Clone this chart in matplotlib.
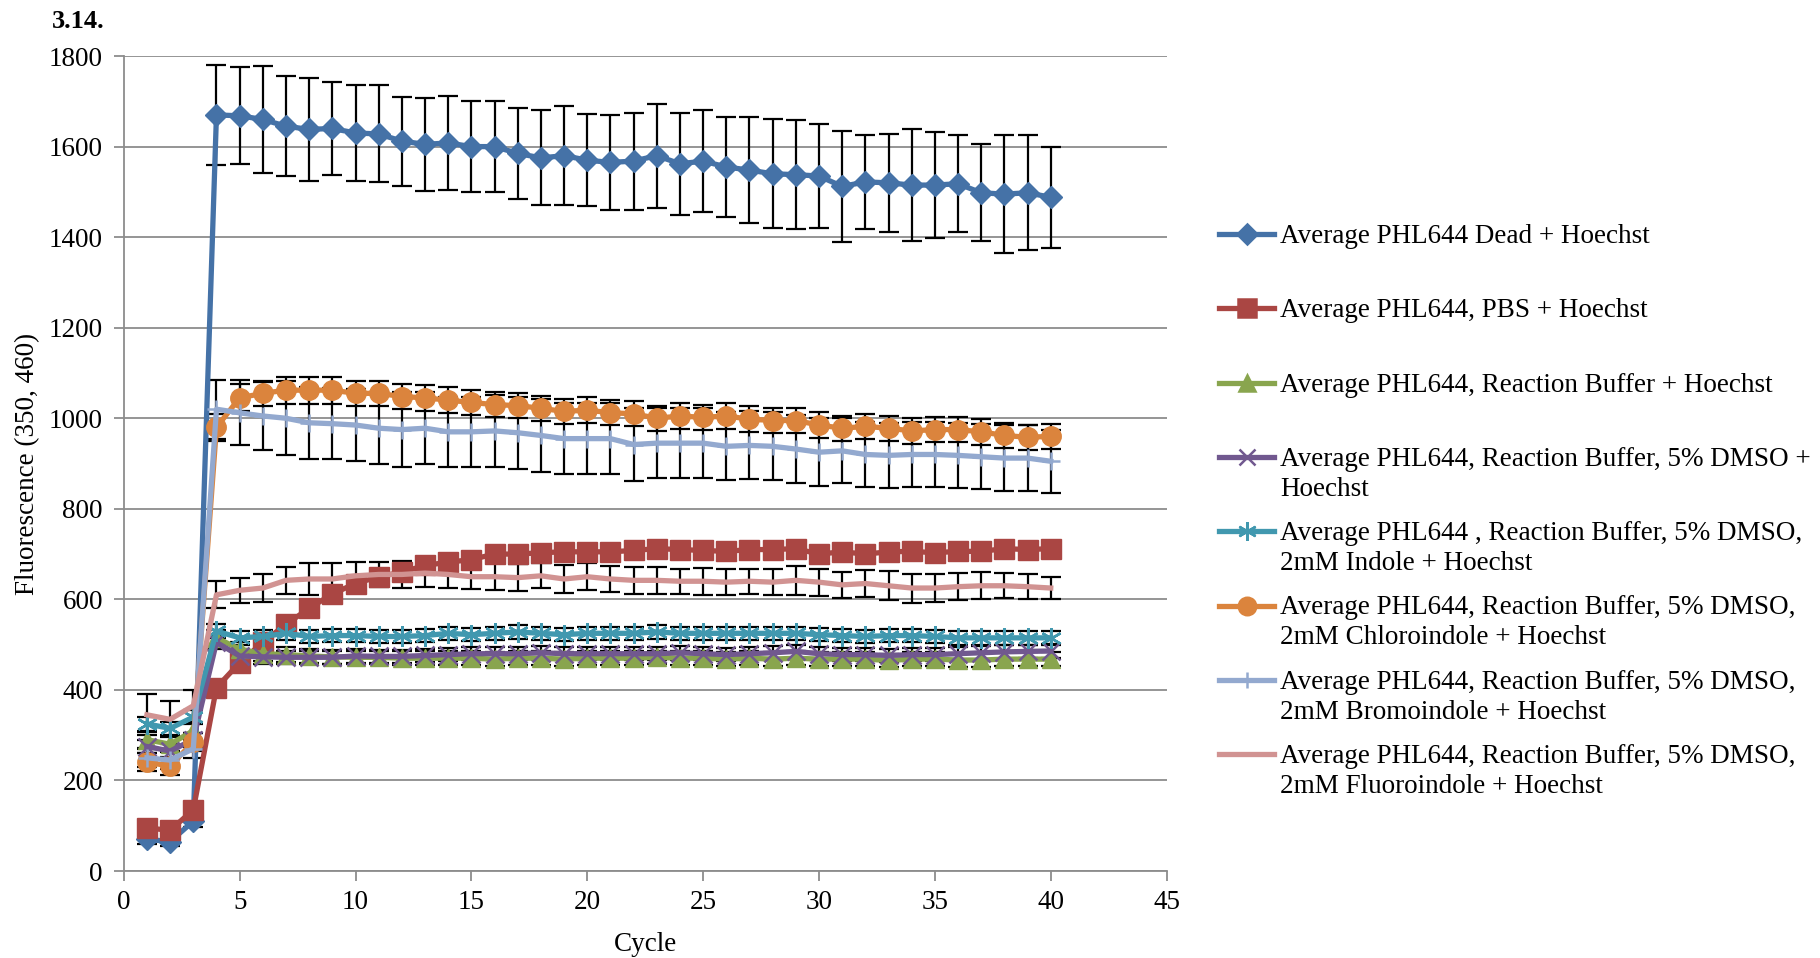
import matplotlib
matplotlib.use("Agg")
import matplotlib.pyplot as plt
from matplotlib.lines import Line2D

plt.rcParams["font.family"] = ["Liberation Serif", "DejaVu Serif"]

cycles = list(range(1, 41))

dead = [70, 65, 110, 1670, 1668, 1660, 1645, 1638, 1640, 1630, 1628, 1612, 1605, 1608, 1600, 1600, 1585, 1575, 1580, 1570,
        1565, 1568, 1580, 1562, 1568, 1555, 1548, 1540, 1538, 1535, 1512, 1522, 1520, 1515, 1515, 1518, 1498, 1495, 1498, 1488]
dead_err = [10, 10, 12, 110, 107, 118, 110, 114, 102, 105, 107, 98, 103, 104, 100, 100, 100, 105, 110, 102,
            105, 107, 115, 113, 112, 110, 117, 120, 120, 115, 123, 103, 108, 123, 117, 107, 107, 130, 127, 112]

pbs = [95, 90, 135, 405, 460, 505, 545, 580, 612, 635, 650, 660, 675, 682, 688, 700, 700, 703, 705, 705,
       705, 708, 712, 710, 708, 706, 710, 710, 712, 700, 705, 700, 705, 706, 703, 706, 706, 712, 710, 712]
pbs_err = [12] * 40

rb = [290, 280, 310, 515, 490, 480, 478, 475, 473, 472, 472, 470, 470, 470, 470, 468, 470, 470, 468, 470,
      470, 470, 472, 470, 470, 468, 470, 468, 470, 468, 468, 468, 465, 468, 468, 466, 466, 468, 468, 468]
rb_err = [18, 18, 18, 18, 16, 16, 16, 15, 15, 15, 15, 15, 15, 15, 15, 15, 15, 15, 15, 15,
          15, 15, 15, 15, 15, 15, 15, 15, 15, 15, 15, 15, 15, 15, 15, 15, 15, 15, 15, 15]

dmso = [275, 265, 290, 505, 475, 473, 472, 472, 472, 475, 474, 474, 476, 478, 480, 480, 480, 482, 480, 480,
        480, 480, 480, 482, 480, 478, 480, 482, 485, 480, 478, 478, 476, 478, 478, 480, 482, 484, 485, 486]
dmso_err = [15] * 40

indole = [325, 315, 340, 530, 515, 518, 525, 518, 520, 520, 518, 518, 520, 525, 522, 525, 528, 525, 522, 525,
          525, 525, 528, 525, 525, 525, 525, 525, 525, 522, 520, 518, 520, 520, 518, 515, 515, 515, 515, 515]
indole_err = [15] * 40

chloro = [240, 232, 285, 980, 1045, 1055, 1062, 1062, 1062, 1055, 1055, 1048, 1045, 1040, 1035, 1030, 1028, 1022, 1015, 1018,
          1012, 1010, 1000, 1005, 1002, 1005, 998, 995, 995, 985, 978, 982, 978, 972, 975, 975, 970, 962, 958, 960]
chloro_err = [20, 20, 20, 30, 30, 28, 30, 30, 30, 28, 28, 28, 28, 28, 28, 28, 28, 28, 28, 28,
              28, 28, 28, 28, 28, 28, 28, 28, 28, 28, 28, 28, 28, 28, 28, 28, 28, 28, 28, 28]

bromo = [250, 245, 270, 1020, 1012, 1005, 1000, 990, 988, 985, 978, 975, 978, 970, 970, 972, 968, 962, 955, 955,
         955, 942, 945, 945, 945, 938, 940, 938, 932, 925, 928, 920, 918, 920, 920, 918, 915, 912, 912, 905]
bromo_err = [20, 20, 20, 65, 72, 75, 82, 80, 78, 80, 80, 82, 80, 78, 78, 80, 80, 80, 78, 78,
             78, 80, 78, 78, 78, 75, 75, 75, 75, 75, 72, 72, 72, 72, 72, 72, 72, 72, 72, 70]

fluoro = [345, 335, 365, 610, 620, 625, 642, 645, 645, 652, 655, 655, 658, 655, 650, 650, 648, 652, 645, 650,
          645, 642, 642, 640, 640, 638, 640, 638, 642, 638, 632, 635, 630, 625, 625, 628, 630, 630, 628, 625]
fluoro_err = [45, 40, 35, 30, 28, 30, 30, 35, 35, 30, 28, 30, 30, 30, 28, 30, 30, 28, 30, 30,
              28, 30, 30, 28, 30, 28, 28, 28, 32, 30, 28, 30, 32, 32, 30, 30, 30, 28, 28, 25]

labels = [
    "Average PHL644 Dead + Hoechst",
    "Average PHL644, PBS + Hoechst",
    "Average PHL644, Reaction Buffer + Hoechst",
    "Average PHL644, Reaction Buffer, 5% DMSO +\nHoechst",
    "Average PHL644 , Reaction Buffer, 5% DMSO,\n2mM Indole + Hoechst",
    "Average PHL644, Reaction Buffer, 5% DMSO,\n2mM Chloroindole + Hoechst",
    "Average PHL644, Reaction Buffer, 5% DMSO,\n2mM Bromoindole + Hoechst",
    "Average PHL644, Reaction Buffer, 5% DMSO,\n2mM Fluoroindole + Hoechst",
]
series = [dead, pbs, rb, dmso, indole, chloro, bromo, fluoro]
errors = [dead_err, pbs_err, rb_err, dmso_err, indole_err, chloro_err, bromo_err, fluoro_err]
colors = ["#4572A7", "#AA4643", "#89A54E", "#71588F", "#4198AF", "#DB843D", "#93A9CF", "#D19392"]
markers = ["D", "s", "^", "x", (6, 2, 0), "o", "+", None]
msizes = [11, 14, 13, 13, 15, 14, 13, 0]

FS = 19.5

fig = plt.figure(figsize=(18.2, 9.58), dpi=100)
ax = fig.add_axes([0.068, 0.0908, 0.573, 0.8507])

for y, e, c, m, ms in zip(series, errors, colors, markers, msizes):
    ax.errorbar(cycles, y, yerr=e, fmt="none", ecolor="black", elinewidth=1.6, capsize=7, capthick=1.6, zorder=2)
    ax.plot(cycles, y, color=c, lw=3.8, marker=m, markersize=ms, markeredgewidth=1.8 if m in ("x", "+") or isinstance(m, tuple) else 1,
            markeredgecolor=c, zorder=3)

ax.set_xlim(0, 45)
ax.set_ylim(0, 1800)
ax.set_xticks(range(0, 46, 5))
ax.set_yticks(range(0, 1801, 200))
ax.grid(axis="y", color="#8c8c8c", lw=1.3)
ax.set_axisbelow(True)
for s in ["top", "right"]:
    ax.spines[s].set_visible(False)
for s in ["left", "bottom"]:
    ax.spines[s].set_color("#8c8c8c")
    ax.spines[s].set_linewidth(1.3)
ax.tick_params(axis="both", colors="#8c8c8c", labelcolor="black", labelsize=FS, length=7, width=1.3)
ax.tick_params(axis="y", pad=8)
ax.tick_params(axis="x", pad=7)
ax.set_xlabel("Cycle", fontsize=FS, labelpad=12)
ax.set_ylabel("Fluorescence (350, 460)", fontsize=FS, labelpad=6)

fig.text(52 / 1820, 1 - 21 / 958, "3.14.", fontsize=19, fontweight="bold", va="center", ha="left")

# legend drawn by hand so each entry sits in an equal slot
W, H = 1820, 958
for i, (lab, c, m, ms) in enumerate(zip(labels, colors, markers, msizes)):
    yc = 234 + i * 74.3
    fy = 1 - yc / H
    fig.add_artist(Line2D([1219 / W, 1274 / W], [fy, fy], color=c, lw=3.8, transform=fig.transFigure))
    if m is not None:
        fig.add_artist(Line2D([1246.5 / W], [fy], color=c, marker=m, markersize=ms * 0.9, markeredgecolor=c,
                              markeredgewidth=1.8, transform=fig.transFigure))
    fig.text(1280 / W, 1 - (yc - 10) / H, lab, fontsize=FS, va="top", ha="left", linespacing=1.25)

fig.savefig("out.png", dpi=100)
